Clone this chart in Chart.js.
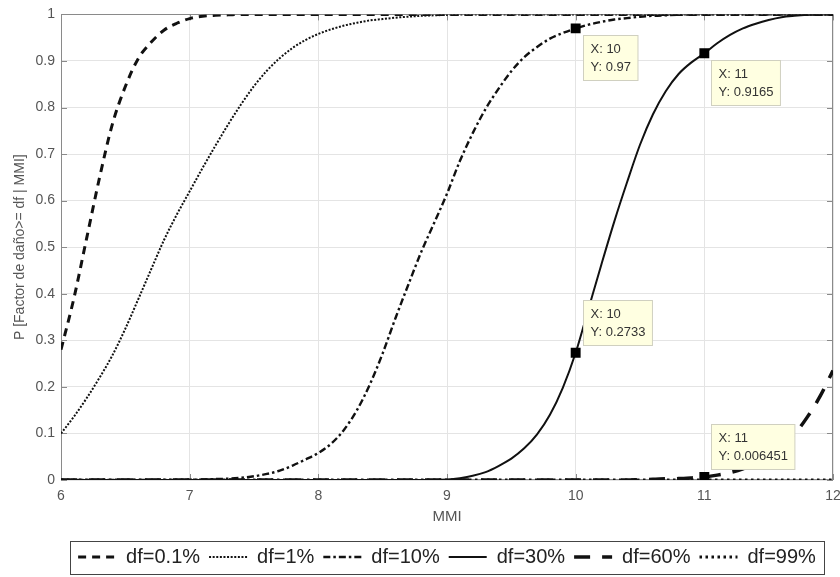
<!DOCTYPE html>
<html><head><meta charset="utf-8">
<script src="https://cdn.jsdelivr.net/npm/chart.js@4"></script>
<style>html,body{margin:0;padding:0;background:#fff;}#wrap{width:840px;height:577px;}</style>
</head><body><div id="wrap"><canvas id="c" width="840" height="577"></canvas></div>
<script>
// ---- data ----
const mmi = [6,6.1,6.2,6.3,6.4,6.5,6.6,6.7,6.8,6.9,
  7,7.1,7.2,7.3,7.4,7.5,7.6,7.7,7.8,7.9,
  8,8.1,8.2,8.3,8.4,8.5,8.6,8.7,8.8,8.9,
  9,9.1,9.2,9.3,9.4,9.5,9.6,9.7,9.8,9.9,
  10,10.1,10.2,10.3,10.4,10.5,10.6,10.7,10.8,10.9,
  11,11.1,11.2,11.3,11.4,11.5,11.6,11.7,11.8,11.9,
  12];
const seriesNames = ['df=0.1%','df=1%','df=10%','df=30%','df=60%','df=99%'];
const pDf01 = [0.28,0.39,0.52,0.65,0.765,0.845,0.905,0.94,0.966,0.981,
  0.991,0.996,0.998,0.999,1,1,1,1,1,1,
  1,1,1,1,1,1,1,1,1,1,
  1,1,1,1,1,1,1,1,1,1,
  1,1,1,1,1,1,1,1,1,1,
  1,1,1,1,1,1,1,1,1,1,
  1];
const pDf1 = [0.10,0.136,0.176,0.22,0.268,0.325,0.388,0.452,0.515,0.57,
  0.62,0.67,0.718,0.764,0.807,0.846,0.879,0.906,0.928,0.945,
  0.958,0.968,0.976,0.982,0.987,0.99,0.993,0.995,0.997,0.998,
  0.999,1,1,1,1,1,1,1,1,1,
  1,1,1,1,1,1,1,1,1,1,
  1,1,1,1,1,1,1,1,1,1,
  1];
const pDf10 = [0,0,0,0,0,0,0,0,0,0,
  0.0005,0.001,0.002,0.003,0.005,0.008,0.013,0.02,0.031,0.044,
  0.058,0.078,0.108,0.15,0.205,0.272,0.348,0.42,0.49,0.552,
  0.615,0.685,0.745,0.797,0.84,0.878,0.908,0.93,0.948,0.96,
  0.97,0.978,0.984,0.989,0.992,0.995,0.997,0.998,0.999,1,
  1,1,1,1,1,1,1,1,1,1,
  1];
const pDf30 = [0,0,0,0,0,0,0,0,0,0,
  0,0,0,0,0,0,0,0,0,0,
  0,0,0,0,0,0,0,0,0,0,
  0.001,0.004,0.009,0.017,0.03,0.046,0.068,0.098,0.14,0.198,
  0.2733,0.368,0.463,0.555,0.64,0.72,0.785,0.835,0.872,0.897,
  0.9165,0.938,0.956,0.97,0.98,0.988,0.994,0.997,0.999,1,
  1];
const pDf60 = [0,0,0,0,0,0,0,0,0,0,
  0,0,0,0,0,0,0,0,0,0,
  0,0,0,0,0,0,0,0,0,0,
  0,0,0,0,0,0,0,0,0,0,
  0,0,0,0,0,0.001,0.0015,0.0025,0.003,0.0045,
  0.006451,0.0105,0.016,0.024,0.035,0.05,0.07,0.098,0.135,0.18,
  0.235];
const pDf99 = [0,0,0,0,0,0,0,0,0,0,
  0,0,0,0,0,0,0,0,0,0,
  0,0,0,0,0,0,0,0,0,0,
  0,0,0,0,0,0,0,0,0,0,
  0,0,0,0,0,0,0,0,0,0,
  0,0,0,0,0,0,0,0,0,0,
  0];
const tipX = [10, 11, 10, 11];
const tipY = [0.97, 0.9165, 0.2733, 0.006451];
const tipSide = ['below', 'below', 'above', 'above'];
const xLabel = 'MMI';
const yLabel = 'P [Factor de daño>= df | MMI]';

// ---- styles ----
const FONT = "'Liberation Sans', Arial, Helvetica, sans-serif";
const styles = [
  {w: 3, dash: [8, 6]},
  {w: 2, dash: [2, 1.6]},
  {w: 2.4, dash: [7, 3, 2.5, 3]},
  {w: 2, dash: []},
  {w: 3.5, dash: [16, 12]},
  {w: 3, dash: [2.5, 3.5]}
];
const allSeries = [pDf01, pDf1, pDf10, pDf30, pDf60, pDf99];

const datasets = allSeries.map((arr, k) => ({
  label: seriesNames[k],
  data: mmi.map((x, i) => ({x: x, y: arr[i]})),
  borderColor: '#111',
  backgroundColor: '#111',
  borderWidth: styles[k].w,
  borderDash: styles[k].dash,
  pointRadius: 0,
  cubicInterpolationMode: 'monotone',
  fill: false,
  order: 1
}));
datasets.push({
  label: 'tips',
  data: tipX.map((x, i) => ({x: x, y: tipY[i]})),
  showLine: false,
  pointStyle: 'rect',
  pointRadius: 7,
  backgroundColor: '#000',
  borderColor: '#000',
  borderWidth: 0,
  order: 0
});

const deco = {
  id: 'deco',
  beforeDraw(chart) {
    const ctx = chart.ctx;
    ctx.save(); ctx.fillStyle = '#fff'; ctx.fillRect(0, 0, chart.width, chart.height); ctx.restore();
  },
  beforeDatasetsDraw(chart) {
    const {ctx, chartArea: a, scales: {x, y}} = chart;
    ctx.save();
    ctx.strokeStyle = '#8a8a8a'; ctx.lineWidth = 1;
    ctx.strokeRect(Math.round(a.left) + 0.5, Math.round(a.top) + 0.5, Math.round(a.right - a.left) - 1, Math.round(a.bottom - a.top) - 1);
    ctx.beginPath();
    x.ticks.forEach(t => {
      const px = Math.round(x.getPixelForValue(t.value)) + 0.5;
      ctx.moveTo(px, a.bottom); ctx.lineTo(px, a.bottom - 6);
      ctx.moveTo(px, a.top); ctx.lineTo(px, a.top + 6);
    });
    y.ticks.forEach(t => {
      const py = Math.round(y.getPixelForValue(t.value)) + 0.5;
      ctx.moveTo(a.left, py); ctx.lineTo(a.left + 6, py);
      ctx.moveTo(a.right, py); ctx.lineTo(a.right - 6, py);
    });
    ctx.stroke();
    ctx.restore();
  },
  afterDatasetsDraw(chart) {
    const {ctx, scales: {x, y}} = chart;
    ctx.save();
    ctx.font = '13px ' + FONT;
    tipX.forEach((xv, i) => {
      const px = x.getPixelForValue(xv), py = y.getPixelForValue(tipY[i]);
      const l1 = 'X: ' + xv, l2 = 'Y: ' + tipY[i];
      const w = Math.max(ctx.measureText(l1).width, ctx.measureText(l2).width) + 14;
      const h = 45;
      const bx = Math.round(px + 7) + 0.5;
      const by = Math.round(tipSide[i] === 'below' ? py + 7 : py - 8 - h) + 0.5;
      ctx.fillStyle = '#ffffe1';
      ctx.fillRect(bx, by, w, h);
      ctx.strokeStyle = '#d0d0c0'; ctx.lineWidth = 1;
      ctx.strokeRect(bx, by, w, h);
      ctx.fillStyle = '#333';
      ctx.textBaseline = 'middle'; ctx.textAlign = 'left';
      ctx.fillText(l1, bx + 7, by + 14);
      ctx.fillText(l2, bx + 7, by + 32);
    });
    ctx.restore();
  },
  afterDraw(chart) {
    const hb = chart.legend.legendHitBoxes;
    if (!hb || !hb.length) return;
    const ctx = chart.ctx;
    const l = Math.min(...hb.map(h => h.left)) - 8;
    const r = Math.max(...hb.map(h => h.left + h.width)) + 8;
    const t = hb[0].top - 6, b = hb[0].top + hb[0].height + 7;
    ctx.save();
    ctx.strokeStyle = '#444'; ctx.lineWidth = 1;
    ctx.strokeRect(Math.round(l) + 0.5, Math.round(t) + 0.5, Math.round(r - l), Math.round(b - t));
    ctx.restore();
  }
};

new Chart(document.getElementById('c'), {
  type: 'line',
  data: {datasets: datasets},
  plugins: [deco],
  options: {
    responsive: false,
    devicePixelRatio: 1,
    animation: false,
    layout: {padding: {top: 14, right: 7, left: 0, bottom: 0}},
    plugins: {
      tooltip: {enabled: false},
      legend: {
        position: 'bottom',
        fullSize: false,
        labels: {
          filter: (item) => item.text !== 'tips',
          usePointStyle: true,
          pointStyle: 'line',
          pointStyleWidth: 38,
          padding: 9,
          color: '#222',
          font: {family: FONT, size: 20},
          generateLabels(chart) {
            const items = Chart.defaults.plugins.legend.labels.generateLabels(chart);
            items.forEach(it => {
              const ds = chart.data.datasets[it.datasetIndex];
              it.lineDash = ds.borderDash;
              it.lineWidth = ds.borderWidth;
              it.strokeStyle = ds.borderColor;
              it.pointStyle = 'line';
            });
            return items;
          }
        }
      }
    },
    scales: {
      x: {
        type: 'linear', min: 6, max: 12,
        ticks: {stepSize: 1, color: '#555', font: {family: FONT, size: 14}, padding: 8, maxRotation: 0},
        grid: {color: '#e4e4e4', drawTicks: false},
        border: {display: false},
        title: {display: true, text: xLabel, color: '#555', font: {family: FONT, size: 15}, padding: {top: 0, bottom: 12}},
        afterFit(s) { s.height = 58; s.paddingLeft = 0; s.paddingRight = 0; }
      },
      y: {
        min: 0, max: 1,
        ticks: {stepSize: 0.1, callback: v => String(+(+v).toFixed(1)), color: '#555', font: {family: FONT, size: 14}, padding: 6},
        grid: {color: '#e4e4e4', drawTicks: false},
        border: {display: false},
        title: {display: true, text: yLabel, color: '#555', font: {family: FONT, size: 14}, padding: {top: 12, bottom: 0}},
        afterFit(s) { s.width = 61; }
      }
    }
  }
});
</script></body></html>
